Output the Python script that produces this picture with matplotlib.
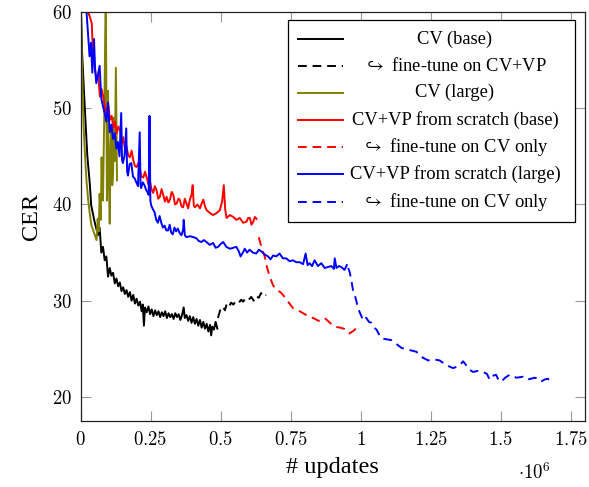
import matplotlib
matplotlib.use("Agg")
import matplotlib.pyplot as plt
from matplotlib.patches import Rectangle
from matplotlib.ticker import FuncFormatter, MultipleLocator

plt.rcParams["font.family"] = ["Liberation Serif", "DejaVu Serif"]
plt.rcParams["mathtext.fontset"] = "cm"

# x in millions of updates, y = CER
cv_base_x = [0.0, 0.005, 0.0146, 0.024, 0.0325, 0.038, 0.05, 0.062, 0.068, 0.074, 0.08, 0.086,
             0.092, 0.098, 0.104, 0.11, 0.116, 0.122, 0.128, 0.134, 0.14, 0.146, 0.152, 0.158,
             0.164, 0.17, 0.176, 0.182, 0.188, 0.194, 0.2, 0.206, 0.212, 0.218, 0.222, 0.226,
             0.23, 0.236, 0.242, 0.248, 0.254, 0.26, 0.266, 0.272, 0.278, 0.284, 0.29, 0.296,
             0.302, 0.308, 0.314, 0.32, 0.326, 0.332, 0.338, 0.344, 0.35, 0.356, 0.362, 0.368,
             0.372, 0.378, 0.384, 0.39, 0.396, 0.402, 0.408, 0.414, 0.42, 0.426, 0.432, 0.438,
             0.444, 0.45, 0.456, 0.462, 0.466, 0.47, 0.476, 0.482, 0.488]
cv_base_y = [62, 56, 50.3, 45.1, 42.3, 39.9, 38.2, 36.8, 37.6, 35.0, 35.6, 34.2,
             34.6, 32.5, 33.4, 32.6, 32.9, 31.8, 32.3, 31.5, 31.9, 31.0, 31.4, 30.7,
             31.1, 30.4, 30.9, 30.0, 30.6, 29.7, 30.2, 29.5, 29.9, 28.9, 29.6, 27.4,
             29.3, 28.8, 29.4, 28.6, 29.1, 28.4, 29.0, 28.5, 28.9, 28.3, 28.8, 28.4,
             28.9, 28.2, 28.7, 28.3, 28.6, 28.1, 28.7, 28.3, 28.6, 28.0, 28.5, 29.3,
             28.2, 28.5, 27.9, 28.4, 27.7, 28.3, 27.6, 28.1, 27.4, 28.0, 27.2, 27.8,
             27.1, 27.6, 26.8, 27.5, 26.4, 27.3, 27.0, 27.8, 27.1]

ft_cvvp_x = [0.49, 0.5, 0.508, 0.515, 0.522, 0.53, 0.537, 0.545, 0.555, 0.565, 0.573, 0.58,
             0.59, 0.6, 0.609, 0.618, 0.627, 0.636, 0.644, 0.652, 0.662]
ft_cvvp_y = [28.2, 29.2, 29.4, 29.0, 29.7, 29.4, 29.8, 29.6, 30.0, 29.8, 30.1, 29.9,
             30.3, 30.1, 30.4, 30.0, 30.5, 30.3, 30.8, 30.4, 30.6]

cv_large_x = [0.0, 0.004, 0.008, 0.011, 0.016, 0.021, 0.027, 0.033, 0.039, 0.045, 0.051, 0.057,
              0.061, 0.065, 0.068, 0.072, 0.075, 0.078, 0.08, 0.083, 0.085, 0.088, 0.09, 0.092,
              0.094, 0.096, 0.098, 0.101, 0.104, 0.107, 0.11, 0.113, 0.116, 0.119, 0.122, 0.126,
              0.13]
cv_large_y = [62, 56, 51, 48, 45, 42.5, 40.5, 39.0, 37.8, 37.3, 36.8, 36.3,
              38.5, 37.2, 41.1, 38.4, 44.9, 41.0, 40.4, 46.5, 50.0, 58, 62, 52,
              40.4, 45, 51.8, 42.5, 38.0, 46, 48.0, 42, 43.2, 49, 44.5, 54.2,
              42.5]

scratch_base_x = [0.022, 0.027, 0.033, 0.04, 0.045, 0.051, 0.057, 0.063, 0.069, 0.075, 0.081,
                  0.087, 0.093, 0.099, 0.105, 0.111, 0.117, 0.123, 0.129, 0.135, 0.141, 0.147,
                  0.152, 0.158, 0.164, 0.17, 0.176, 0.182, 0.188, 0.194, 0.2, 0.206, 0.212,
                  0.218, 0.224, 0.23, 0.236, 0.242, 0.247, 0.253, 0.259, 0.265, 0.271, 0.277,
                  0.283, 0.289, 0.295, 0.301, 0.307, 0.313, 0.319, 0.325, 0.331, 0.337, 0.343,
                  0.349, 0.354, 0.36, 0.366, 0.372, 0.378, 0.384, 0.39, 0.396, 0.4, 0.404,
                  0.408, 0.417, 0.426, 0.432, 0.438, 0.444, 0.45, 0.462, 0.473, 0.485, 0.497,
                  0.505, 0.511, 0.516, 0.521, 0.533, 0.545, 0.556, 0.568, 0.58, 0.592, 0.598,
                  0.604, 0.61, 0.616, 0.622, 0.628]
scratch_base_y = [62, 60, 59.5, 58.8, 55.0, 54.2, 52.9, 53.4, 51.2, 52.0, 51.2,
                  50.1, 49.5, 50.3, 48.8, 49.2, 48.0, 48.6, 47.4, 48.1, 47.7, 46.4,
                  47.0, 45.8, 46.0, 45.1, 44.9, 45.6, 44.6, 44.0, 43.9, 44.3, 43.6,
                  42.9, 42.8, 43.4, 42.8, 42.1, 42.5, 41.6, 41.2, 41.9, 41.5, 40.6,
                  40.8, 41.6, 41.0, 40.3, 40.8, 40.2, 40.5, 41.3, 41.0, 40.0, 40.1,
                  40.6, 40.5, 39.8, 39.7, 40.6, 40.1, 39.6, 40.5, 41.0, 42.0, 39.9,
                  39.7, 40.0, 39.6, 40.1, 40.5, 39.8, 39.4, 39.1, 38.9, 39.1, 39.4,
                  40.3, 42.0, 39.5, 38.6, 38.9, 38.7, 38.4, 38.6, 38.1, 38.2, 38.6,
                  38.6, 37.9, 38.2, 38.7, 38.5]

ft_cv_base_x = [0.636, 0.645, 0.657, 0.666, 0.675, 0.687, 0.699, 0.713, 0.728, 0.743, 0.759,
                0.776, 0.794, 0.812, 0.83, 0.85, 0.871, 0.89, 0.907, 0.927, 0.948, 0.96,
                0.975, 0.99]
ft_cv_base_y = [36.6, 35.6, 34.6, 33.4, 32.5, 31.6, 31.1, 30.9, 30.4, 29.8, 29.2,
                29.0, 28.7, 28.4, 28.2, 27.9, 28.2, 27.7, 27.3, 27.2, 27.0, 26.6,
                26.9, 27.3]

scratch_large_x = [0.012, 0.02, 0.026, 0.032, 0.037, 0.042, 0.048, 0.052, 0.056, 0.062, 0.068,
                   0.074, 0.08, 0.086, 0.092, 0.098, 0.104, 0.11, 0.116, 0.122, 0.128, 0.133,
                   0.139, 0.145, 0.148, 0.151, 0.157, 0.163, 0.166, 0.169, 0.175, 0.181, 0.187,
                   0.193, 0.199, 0.205, 0.211, 0.214, 0.216, 0.222, 0.228, 0.234, 0.24, 0.243,
                   0.246, 0.249, 0.252, 0.258, 0.264, 0.27, 0.276, 0.282, 0.288, 0.294, 0.3,
                   0.306, 0.312, 0.318, 0.323, 0.329, 0.335, 0.341, 0.347, 0.354, 0.36, 0.366,
                   0.368, 0.372, 0.378, 0.39, 0.403, 0.413, 0.422, 0.431, 0.44, 0.449, 0.461,
                   0.473, 0.482, 0.491, 0.5, 0.509, 0.52, 0.533, 0.545, 0.556, 0.565, 0.571,
                   0.579, 0.586, 0.594, 0.603, 0.615, 0.627, 0.636, 0.646, 0.657, 0.669, 0.678,
                   0.687, 0.698, 0.71, 0.722, 0.734, 0.746, 0.758, 0.77, 0.782, 0.794, 0.803,
                   0.81, 0.817, 0.826, 0.835, 0.847, 0.859, 0.871, 0.883, 0.895, 0.904, 0.907,
                   0.913, 0.922, 0.93, 0.942, 0.95]
scratch_large_y = [62, 60.5, 58, 55.4, 56.8, 53.7, 57.2, 54.0, 52.6, 53.5, 54.4,
                   51.0, 50.2, 49.5, 48.6, 50.6, 47.5, 48.3, 46.8, 47.4, 45.8, 46.5,
                   45.0, 49.5, 44.6, 44.3, 45.1, 47.9, 43.5, 43.0, 44.2, 44.3, 42.9,
                   42.7, 42.3, 41.9, 47.5, 42.0, 41.7, 42.3, 42.0, 41.5, 41.2, 41.0,
                   49.2, 40.4, 39.9, 39.5, 39.2, 38.4, 38.1, 38.8, 38.1, 37.6, 37.8,
                   37.3, 37.3, 37.9, 37.1, 36.9, 37.6, 37.2, 37.5, 37.0, 36.8, 37.4,
                   38.4, 36.8, 36.6, 36.7, 36.6, 36.5, 36.2, 36.1, 36.3, 36.1, 35.8,
                   36.0, 35.5, 35.6, 35.9, 36.1, 35.6, 35.4, 35.5, 35.6, 35.1, 34.6,
                   35.0, 35.4, 35.0, 35.3, 35.0, 34.9, 35.3, 35.1, 34.8, 34.6, 34.3,
                   34.7, 34.6, 34.9, 34.4, 34.4, 34.1, 34.2, 34.0, 34.0, 33.8, 34.9,
                   33.7, 33.9, 33.6, 34.2, 33.6, 33.9, 33.4, 33.5, 33.6, 33.3, 34.4,
                   33.4, 33.6, 33.5, 33.2, 33.7]

ft_cv_large_x = [0.955, 0.96, 0.966, 0.972, 0.978, 0.984, 0.99, 0.999, 1.008, 1.014, 1.02,
                 1.029, 1.038, 1.047, 1.056, 1.065, 1.073, 1.09, 1.109, 1.127, 1.145, 1.17,
                 1.198, 1.22, 1.24, 1.26, 1.281, 1.305, 1.329, 1.35, 1.365, 1.371, 1.385,
                 1.4, 1.418, 1.436, 1.45, 1.46, 1.47, 1.483, 1.492, 1.502, 1.515, 1.531,
                 1.555, 1.579, 1.594, 1.608, 1.62, 1.632, 1.644, 1.655, 1.667, 1.676, 1.685]
ft_cv_large_y = [33.4, 33.0, 32.2, 31.1, 30.6, 30.0, 29.2, 28.6, 28.0, 28.3, 28.2,
                 27.8, 27.7, 27.2, 27.0, 26.5, 26.1, 26.0, 25.9, 25.5, 25.1, 24.9,
                 24.7, 24.1, 23.8, 23.9, 23.8, 23.3, 23.0, 23.2, 23.7, 23.5, 22.9,
                 22.6, 22.7, 22.6, 22.4, 21.8, 22.2, 22.3, 21.7, 21.6, 22.0, 22.3,
                 22.0, 22.1, 21.8, 21.9, 22.0, 21.9, 21.6, 21.8, 21.9, 21.7, 21.5]

labels = ["CV (base)",
          r"$\hookrightarrow$ fine-tune on CV+VP",
          "CV (large)",
          "CV+VP from scratch (base)",
          r"$\hookrightarrow$ fine-tune on CV only",
          "CV+VP from scratch (large)",
          r"$\hookrightarrow$ fine-tune on CV only"]

OLIVE = "#808000"
DASH = (4.5, 3.0)
LW = 1.4

series = [
    (cv_base_x, cv_base_y, "black", None),
    (ft_cvvp_x, ft_cvvp_y, "black", DASH),
    (cv_large_x, cv_large_y, OLIVE, None),
    (scratch_base_x, scratch_base_y, "red", None),
    (ft_cv_base_x, ft_cv_base_y, "red", DASH),
    (scratch_large_x, scratch_large_y, "blue", None),
    (ft_cv_large_x, ft_cv_large_y, "blue", DASH),
]

fig = plt.figure(figsize=(5.89, 4.87), dpi=100)
ax = fig.add_axes([0.1368, 0.1355, 0.8564, 0.8399])

for x, y, c, d in series:
    line, = ax.plot(x, y, color=c, lw=LW)
    if d:
        line.set_dashes(d)

ax.set_xlim(0, 1.8)
ax.set_ylim(17.5, 60)
ax.xaxis.set_major_locator(MultipleLocator(0.25))
ax.yaxis.set_major_locator(MultipleLocator(10))
ax.yaxis.set_major_formatter(FuncFormatter(lambda v, p: f"${v:g}$"))
ax.xaxis.set_major_formatter(FuncFormatter(lambda v, p: f"${v:g}$"))
ax.tick_params(direction="in", top=True, right=True, length=7.2, width=0.8,
               color="#999999", labelsize=13.5)
ax.tick_params(axis="x", pad=7)
ax.tick_params(axis="y", pad=6.5)
for s in ax.spines.values():
    s.set_linewidth(0.9)
    s.set_color("#222222")

ax.set_xlabel("# updates", fontsize=17.5, labelpad=6)
ax.set_ylabel("CER", fontsize=17.5, labelpad=7)
ax.text(0.899, -0.125, r"$\cdot10^{6}$", transform=ax.transAxes, fontsize=13.5,
        ha="center", va="center")

# legend drawn by hand so the labels sit centred, as in the original
ax.add_patch(Rectangle((0.4118, 0.4866), 0.5684, 0.4938, transform=ax.transAxes,
                       facecolor="white", edgecolor="black", lw=0.9, zorder=10))
rows = [0.9333, 0.868, 0.8027, 0.736, 0.6707, 0.6039, 0.5362]
for (x, y, c, d), lab, ry in zip(series, labels, rows):
    key, = ax.plot([0.4316, 0.5196], [ry, ry], color=c, lw=LW,
                   transform=ax.transAxes, zorder=11)
    if d:
        key.set_dashes(d)
    ax.text(0.7423, ry, lab, transform=ax.transAxes, fontsize=13.3,
            ha="center", va="center", zorder=11)

fig.savefig("out.png", dpi=100)
